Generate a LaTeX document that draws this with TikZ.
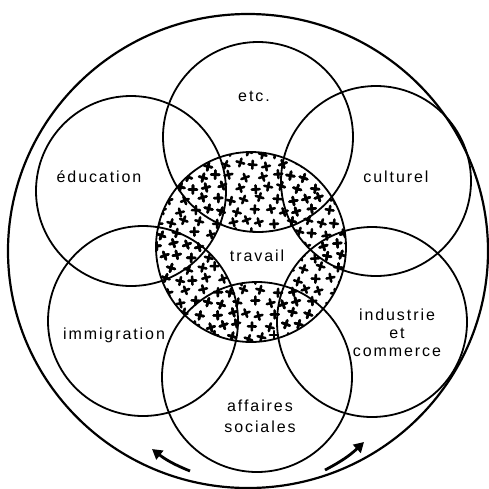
\documentclass[tikz,border=0pt]{standalone}
\usepackage{fontspec}
\setmainfont[LetterSpace=12]{Liberation Sans}
\usetikzlibrary{arrows.meta}
\tikzset{
  ring/.style={line width=1.8pt, draw=black},
  outerring/.style={line width=2.2pt, draw=black},
  lbl/.style={font=\fontsize{16}{18}\selectfont, align=center, inner sep=0pt},
  crossmark/.style={line width=2.6pt, line cap=round},
  flow/.style={line width=2.8pt, -{Triangle[length=10pt,width=11pt]}},
}
\begin{document}
\begin{tikzpicture}[x=1pt,y=-1pt]
\useasboundingbox (0,0) rectangle (489,488);
% centres
\coordinate (cO) at (248,251);
\coordinate (cT) at (251,247);
\coordinate (cEtc) at (258,137);
\coordinate (cEdu) at (131,191);
\coordinate (cCul) at (376,181);
\coordinate (cImm) at (143,321);
\coordinate (cInd) at (372,322);
\coordinate (cAff) at (257,377);
% stippled overlap
\begin{scope}
  \clip (cT) circle (95);
  \foreach \c in {cEtc,cEdu,cCul,cImm,cInd,cAff}{
    \begin{scope}
      \clip (\c) circle (95);
      \foreach \i in {0,...,17}{
        \foreach \j in {0,...,13}{
          \pgfmathsetmacro\px{156+15*\j+7.5*mod(\i,2)+2.5*sin(137*\i+71*\j)}
          \pgfmathsetmacro\py{153+11.5*\i+2*cos(53*\i+97*\j)}
          \pgfmathsetmacro\tw{20*sin(91*\i+43*\j)}
          \draw[crossmark, rotate around={\tw:(\px,\py)}] (\px-4,\py) -- (\px+4,\py) (\px,\py-4) -- (\px,\py+4);
        }
      }
    \end{scope}
  }
\end{scope}
% circles
\draw[outerring] (cO) ellipse [x radius=240, y radius=237];
\draw[ring] (cT) circle (95);
\foreach \c in {cEtc,cEdu,cCul,cImm,cInd,cAff}{
  \draw[ring] (\c) circle (95);
}
% labels
\node[lbl] (lEtc) at (254,96) {etc.};
\node[lbl] (lEdu) at (99,177) {éducation};
\node[lbl] (lCul) at (396,177) {culturel};
\node[lbl, fill=white, inner sep=1pt] (lTra) at (257,256) {travail};
\node[lbl] (lImm) at (114,335) {immigration};
\node[lbl] (lInd) at (397,333) {industrie\\et\\commerce};
\node[lbl, font=\fontsize{16}{21}\selectfont] (lAff) at (260,416) {affaires\\sociales};
% arrows
\coordinate (a1s) at (190,471);
\coordinate (a1e) at (152,449);
\coordinate (a2s) at (325,470);
\coordinate (a2e) at (364,442);
\draw[flow] (a1s) to[bend left=8] (a1e);
\draw[flow] (a2s) to[bend right=8] (a2e);
\end{tikzpicture}
\end{document}
